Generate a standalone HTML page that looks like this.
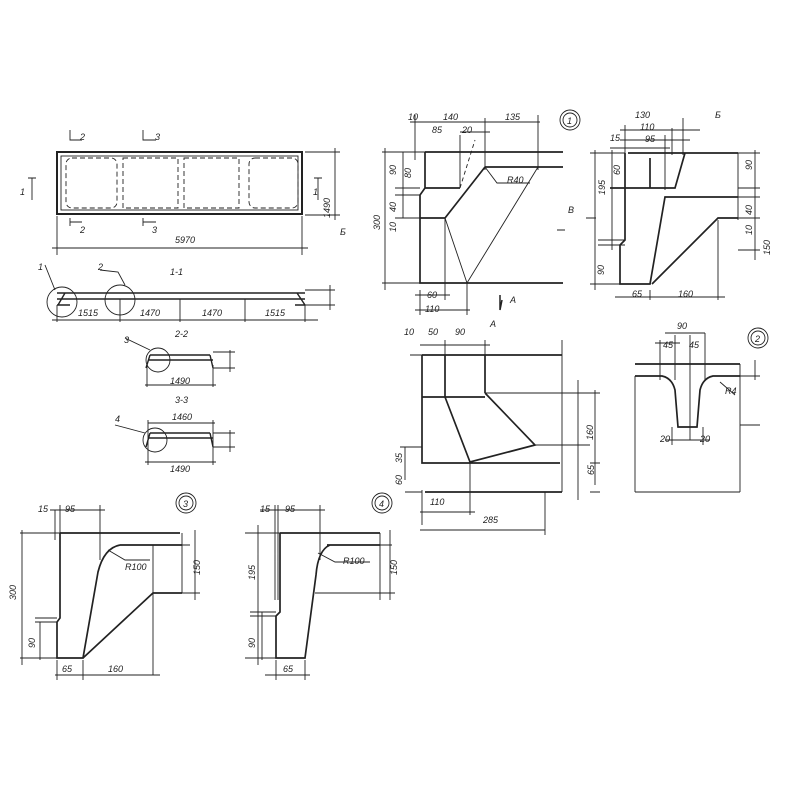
<!DOCTYPE html>
<html><head><meta charset="utf-8"><style>body{margin:0;background:#fff}svg{display:block}text{font-family:"Liberation Sans",sans-serif;font-style:italic;font-size:9px;fill:#222}</style></head><body>
<svg width="800" height="800" viewBox="0 0 800 800" xmlns="http://www.w3.org/2000/svg">
<g stroke="#222" fill="none" stroke-width="0.9">
<rect x="57" y="152" width="245" height="62" stroke-width="2"/>
<rect x="61" y="156" width="237" height="54"/>
<g stroke-dasharray="5,3"><rect x="66" y="158" width="51" height="50" rx="6"/><rect x="123" y="158" width="55" height="50"/><rect x="184" y="158" width="55" height="50"/><rect x="249" y="158" width="49" height="50" rx="6"/></g>
<path d="M57 216V255M302 216V255M52 248H308M305 152H340M305 215H340M335 148V220M70 130V140H82M143 130V140H156M70 226V218M70 222H82M143 226V218M143 222H156M32 178V200M28 178H36M318 178V200M314 178H322"/>
<path d="M57 293H305M57 299H305M65 293L58 305M297 293L305 305M57 305H70M295 305H305" stroke-width="1.4"/>
<path d="M120 299V305M180 299V305M245 299V305M305 290H335M305 305H335M330 285V310M52 320H318M57 305V322M120 305V322M180 305V322M245 305V322M305 305V322"/>
<circle cx="62" cy="302" r="15"/><circle cx="120" cy="300" r="15"/>
<path d="M45 265L55 290M100 270L118 272L125 285"/>
<path d="M150 355H210M148 360H213M150 355L146 368M210 355L213 368" stroke-width="1.4"/>
<circle cx="158" cy="360" r="12"/><path d="M147 365V387M213 365V387M145 385H216M213 352H235M213 368H235M230 350V372M125 338L150 350"/>
<path d="M150 433H210M148 438H213M150 433L146 447M210 433L213 447" stroke-width="1.4"/>
<circle cx="155" cy="440" r="12"/><path d="M148 420V465M213 420V465M145 462H216M148 423H215M213 433H235M213 447H235M230 430V452M115 425L145 433"/>
<path d="M425 152H563M485 167H563M425 152V188L420 195V283H563M420 218H445L485 167M425 188H460" stroke-width="1.7"/>
<path d="M460 188L475 140" stroke-dasharray="4,3"/>
<path d="M445 218L467 283L538 167M485 167L497 183H530M382 152H425M382 283H420M385 148V290M403 152V218M395 188H420M395 195H420M395 218H420M415 115V160M460 135V188M410 122H540M538 115V170M485 118V170M460 132H490M420 290V315M445 218V300M467 283V315M415 295H450M415 310H470M557 230H565"/>
<path d="M500 295V310L502 300" stroke-width="1.5"/>
<circle cx="570" cy="120" r="10"/><circle cx="570" cy="120" r="7"/>
<path d="M628 153H738M625 153V240L620 245V284H650L665 197H738M652 284L718 218H738M610 188H675L685 153M650 158V188" stroke-width="1.7"/>
<path d="M590 153H625M590 284H620M595 150V290M612 150V250M598 240H625M598 245H625M625 125V160M683 118V155M672 128V155M665 135V190M620 130H700M620 140H690M610 148H670M738 153V220M738 153H760M738 188H760M738 197H760M738 218H760M738 250H760M755 150V260M650 290V300M718 220V300M615 297H725M586 218H596"/>
<path d="M422 355V463H560M422 355H562M445 355V397M485 355V393M422 397H485M445 397L470 462L535 445L485 393M425 492H562" stroke-width="1.7"/>
<path d="M485 393H600M535 445H590M410 355H422M405 447V480M400 447H422M405 492H422M562 340V492M578 380V500M595 390V485M590 393H600M590 463H600M590 492H600M422 490V525M470 462V515M545 492V535M420 512H475M420 530H545M420 345H490M445 340V360M485 340V360"/>
<path d="M635 364H740M635 376H662Q672 378 675 390L678 427H697L700 390Q703 378 713 376H740" stroke-width="1.7"/>
<path d="M635 376V492M740 364V492M635 492H740M655 343H680M660 340V380M675 335V380M690 335V380M665 333H705M705 333V380M690 380V440M672 427V445M703 427V445M665 440H710M740 376H760M740 425H760M755 360V380M720 382L735 395"/>
<circle cx="758" cy="338" r="10"/><circle cx="758" cy="338" r="7"/>
<path d="M60 533H180M120 545H182M60 533V618L57 622V658H83L98 572Q104 548 120 545M83 658L153 593H182" stroke-width="1.7"/>
<path d="M153 545V675M182 533V593M20 533H60M20 658H57M22 530V665M40 622V660M35 618H57M35 622H57M55 510V540M60 505V540M100 505V560M50 510H105M57 660V680M83 660V680M55 675H160M175 545H190M175 593H200M195 530V600M108 550L125 560H150"/>
<circle cx="186" cy="503" r="10"/><circle cx="186" cy="503" r="7"/>
<path d="M280 533H380M327 545H380M280 533V612L276 616V658H305L316 575Q318 550 330 545" stroke-width="1.7"/>
<path d="M315 593H390M380 533V600M245 533H280M245 658H276M258 525V665M262 612V660M250 612H276M250 616H276M275 505V600M278 505V600M320 505V560M260 510H325M276 660V680M305 660V680M265 675H310M375 545H392M375 593H395M390 530V600M318 553L335 562H370"/>
<circle cx="382" cy="503" r="10"/><circle cx="382" cy="503" r="7"/>
</g>
<text x="80" y="140">2</text><text x="155" y="140">3</text><text x="80" y="233">2</text><text x="152" y="233">3</text><text x="175" y="243">5970</text>
<text x="20" y="195">1</text><text x="313" y="195">1</text><text x="330" y="218" font-size="8" transform="rotate(-90 330 218)">1490</text><text x="340" y="235" font-size="10">Б</text>
<text x="170" y="275">1-1</text><text x="38" y="270">1</text><text x="98" y="270">2</text>
<text x="78" y="316">1515</text><text x="140" y="316">1470</text><text x="202" y="316">1470</text><text x="265" y="316">1515</text>
<text x="175" y="337">2-2</text><text x="124" y="343">3</text><text x="170" y="384">1490</text>
<text x="175" y="403">3-3</text><text x="172" y="420">1460</text><text x="115" y="422">4</text><text x="170" y="472">1490</text>
<text x="408" y="120">10</text><text x="443" y="120">140</text><text x="505" y="120">135</text><text x="432" y="133">85</text><text x="462" y="133">20</text><text x="567" y="124">1</text><text x="507" y="183">R40</text>
<text x="380" y="230" transform="rotate(-90 380 230)">300</text><text x="427" y="298">60</text><text x="425" y="312">110</text><text x="510" y="303">A</text><text x="568" y="213">B</text>
<text x="396" y="175" font-size="8" transform="rotate(-90 396 175)">90</text><text x="411" y="178" font-size="8" transform="rotate(-90 411 178)">80</text><text x="396" y="212" font-size="8" transform="rotate(-90 396 212)">40</text><text x="396" y="232" font-size="8" transform="rotate(-90 396 232)">10</text>
<text x="635" y="118">130</text><text x="640" y="130">110</text><text x="645" y="142">95</text><text x="610" y="141">15</text><text x="715" y="118">Б</text>
<text x="605" y="195" transform="rotate(-90 605 195)">195</text><text x="632" y="297">65</text><text x="678" y="297">160</text>
<text x="620" y="175" font-size="8" transform="rotate(-90 620 175)">60</text><text x="604" y="275" font-size="8" transform="rotate(-90 604 275)">90</text>
<text x="752" y="170" font-size="8" transform="rotate(-90 752 170)">90</text><text x="752" y="215" font-size="8" transform="rotate(-90 752 215)">40</text><text x="752" y="235" font-size="8" transform="rotate(-90 752 235)">10</text><text x="770" y="255" font-size="8" transform="rotate(-90 770 255)">150</text>
<text x="404" y="335">10</text><text x="428" y="335">50</text><text x="455" y="335">90</text><text x="490" y="327">A</text>
<text x="430" y="505">110</text><text x="483" y="523">285</text><text x="593" y="440" transform="rotate(-90 593 440)">160</text>
<text x="402" y="463" font-size="8" transform="rotate(-90 402 463)">35</text><text x="402" y="485" font-size="8" transform="rotate(-90 402 485)">60</text><text x="594" y="475" font-size="8" transform="rotate(-90 594 475)">65</text>
<text x="677" y="329">90</text><text x="663" y="348">45</text><text x="689" y="348">45</text><text x="755" y="342">2</text><text x="725" y="394">R4</text><text x="660" y="442">20</text><text x="700" y="442">20</text>
<text x="38" y="512">15</text><text x="65" y="512">95</text><text x="183" y="507">3</text><text x="125" y="570">R100</text><text x="16" y="600" transform="rotate(-90 16 600)">300</text><text x="62" y="672">65</text><text x="108" y="672">160</text>
<text x="35" y="648" font-size="8" transform="rotate(-90 35 648)">90</text><text x="200" y="575" font-size="8" transform="rotate(-90 200 575)">150</text>
<text x="260" y="512">15</text><text x="285" y="512">95</text><text x="379" y="507">4</text><text x="343" y="564">R100</text><text x="283" y="672">65</text>
<text x="255" y="580" font-size="8" transform="rotate(-90 255 580)">195</text><text x="255" y="648" font-size="8" transform="rotate(-90 255 648)">90</text><text x="397" y="575" font-size="8" transform="rotate(-90 397 575)">150</text>
</svg>
</body></html>
